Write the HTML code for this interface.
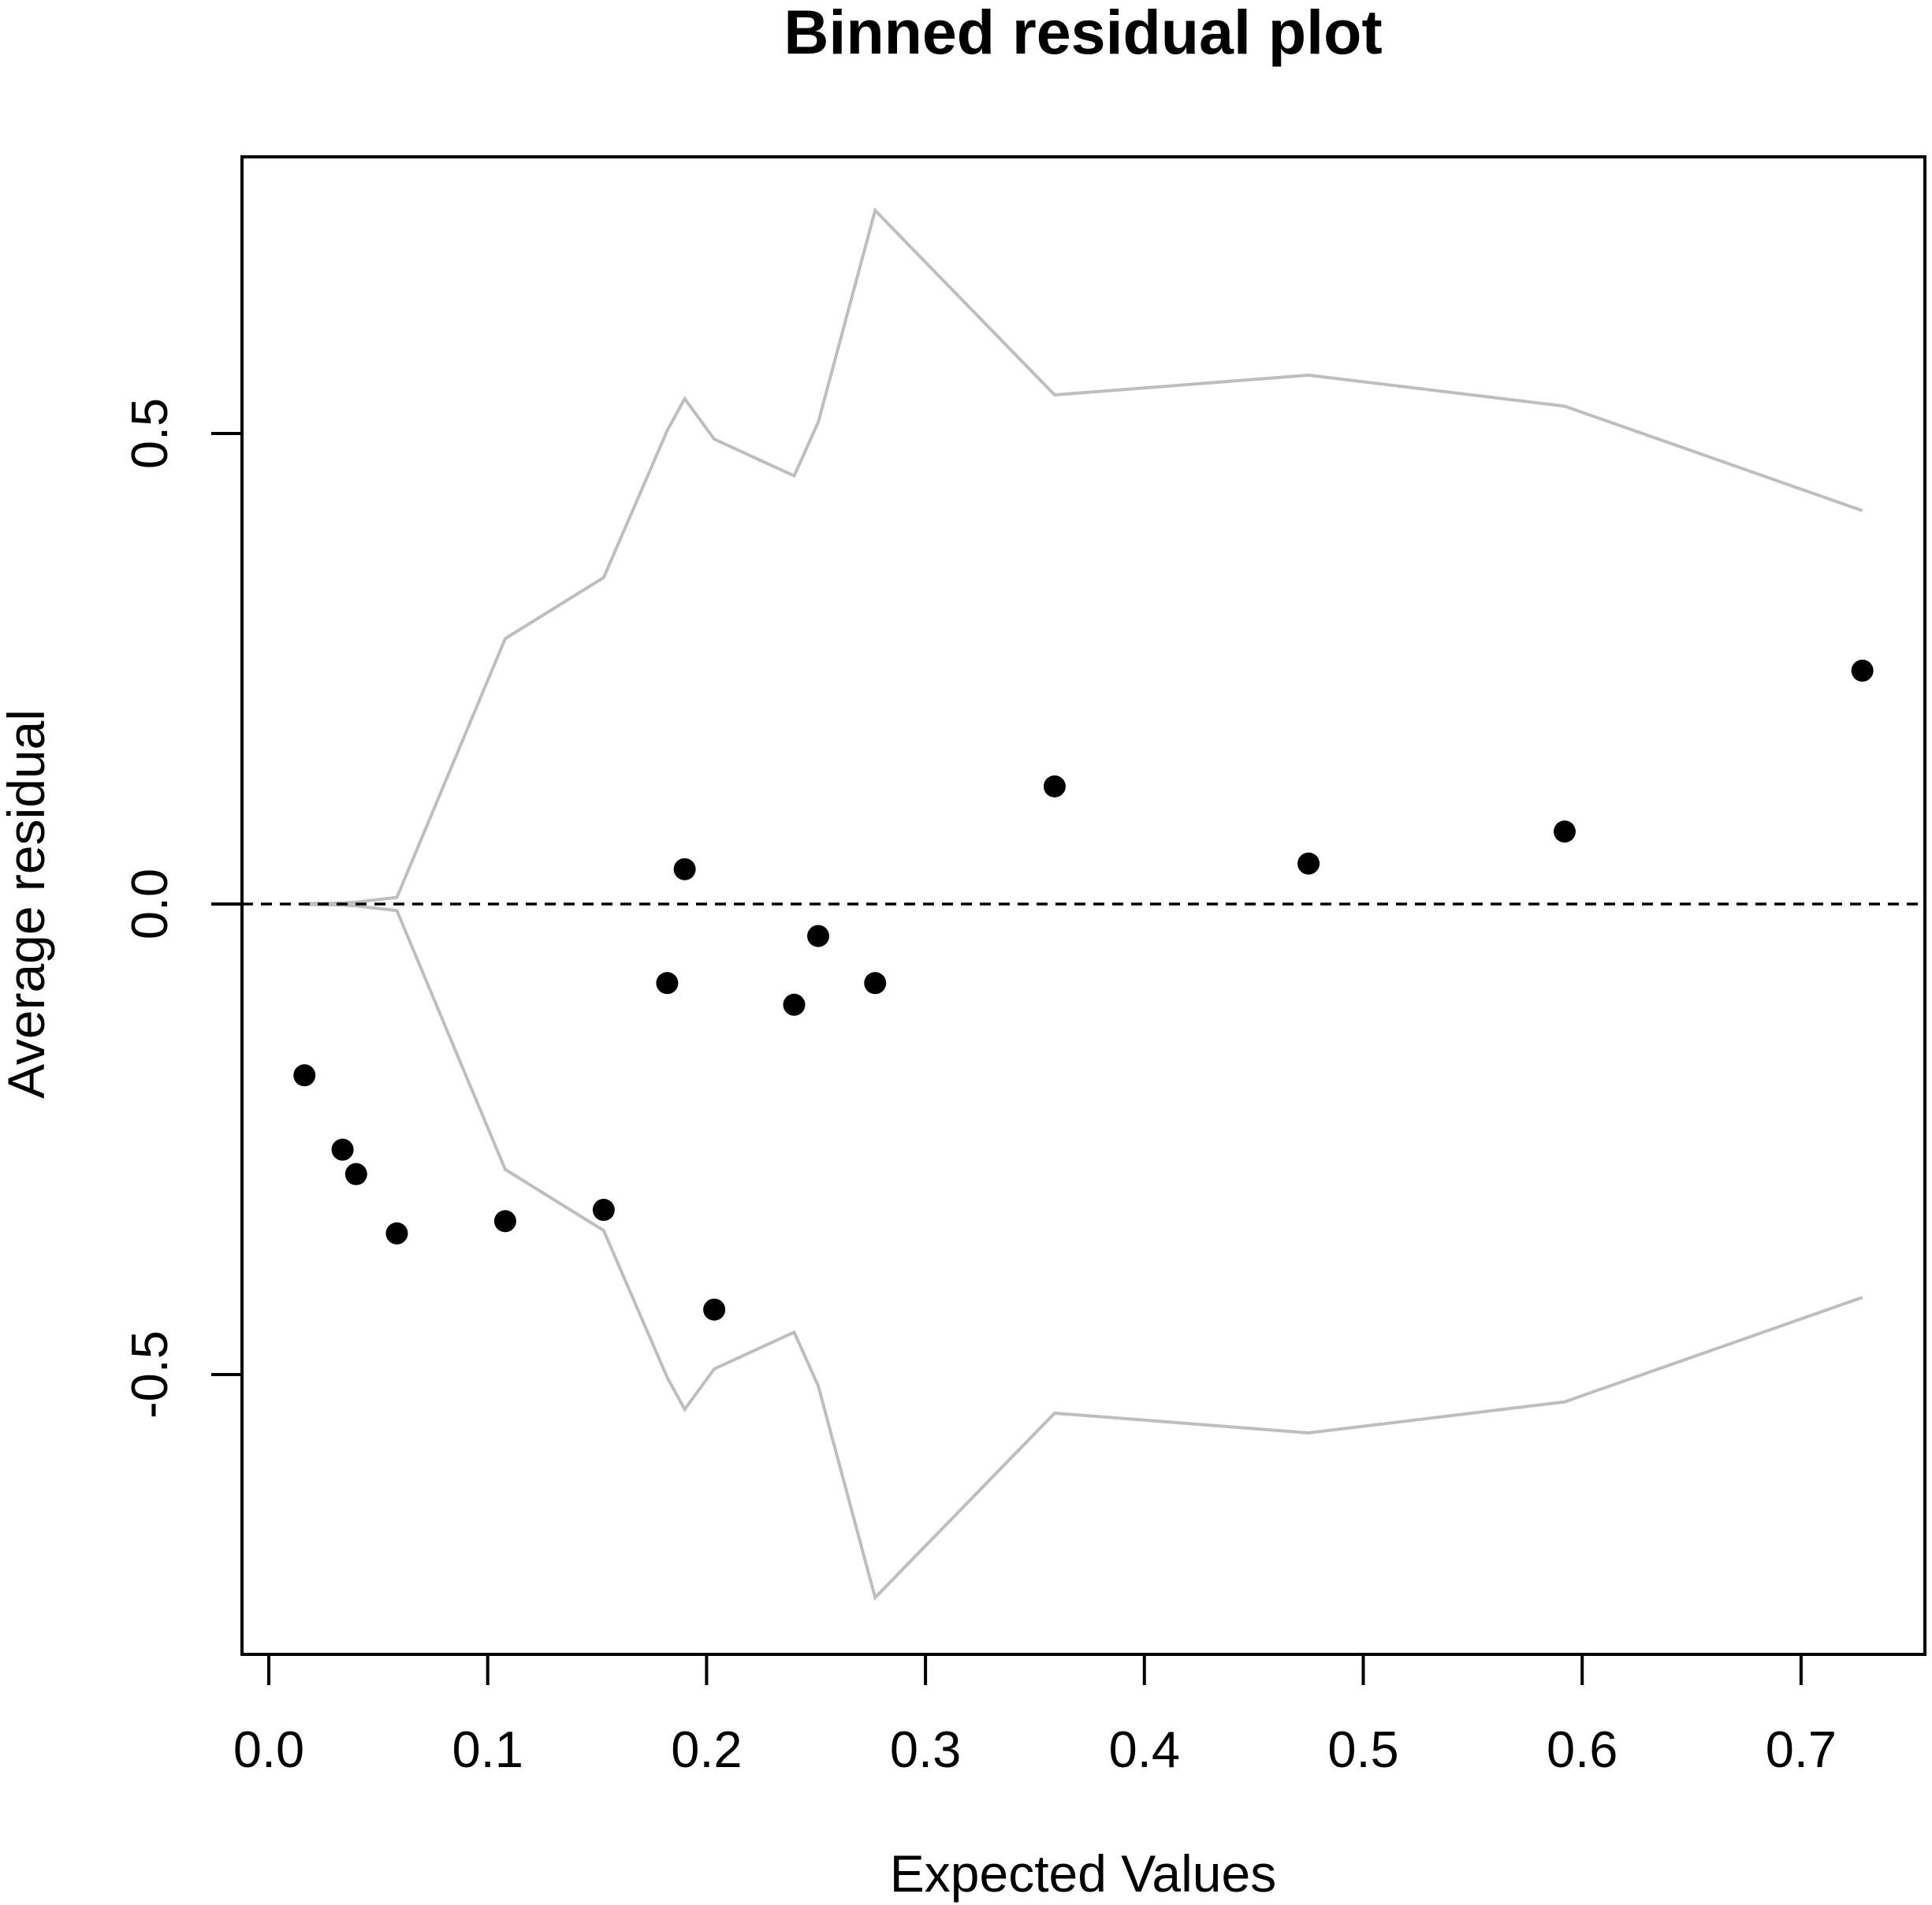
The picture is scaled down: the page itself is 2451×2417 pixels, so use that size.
<!DOCTYPE html>
<html><head><meta charset="utf-8"><style>html,body{margin:0;padding:0;background:#fff}svg{display:block}text{font-family:"Liberation Sans",Arial,sans-serif}</style></head>
<body>
<svg id="chart" width="2451" height="2417" viewBox="0 0 2451 2417" xmlns="http://www.w3.org/2000/svg">
<rect width="2451" height="2417" fill="#fff"/>
<text x="1374" y="68" text-anchor="middle" font-size="79" font-weight="bold">Binned residual plot</text>
<text x="1374" y="2400" text-anchor="middle" font-size="66">Expected Values</text>
<text transform="translate(56,1147) rotate(-90)" text-anchor="middle" font-size="66">Average residual</text>
<g id="plot"></g>
<rect x="307" y="199" width="2135" height="1900" fill="none" stroke="#000" stroke-width="4"/>
</svg>
<script>
const xTicks = [0.0, 0.1, 0.2, 0.3, 0.4, 0.5, 0.6, 0.7];
const xTickLabels = ["0.0","0.1","0.2","0.3","0.4","0.5","0.6","0.7"];
const yTicks = [-0.5, 0.0, 0.5];
const yTickLabels = ["-0.5","0.0","0.5"];
const binX = [0.0163,0.0337,0.0399,0.0585,0.108,0.153,0.182,0.190,0.2035,0.240,0.251,0.277,0.359,0.475,0.592,0.728];
const binResidual = [-0.182,-0.261,-0.287,-0.350,-0.337,-0.325,-0.084,0.037,-0.431,-0.107,-0.034,-0.084,0.125,0.043,0.077,0.248];
const binBound = [0.0005,0.001,0.002,0.007,0.282,0.347,0.503,0.537,0.494,0.455,0.512,0.737,0.541,0.562,0.529,0.418];

const NS = "http://www.w3.org/2000/svg";
const g = document.getElementById('plot');
const sx = v => 341 + v * 2777;
const sy = v => 1147 - v * 1194;
function mk(tag, attrs){const e=document.createElementNS(NS,tag);for(const k in attrs)e.setAttribute(k,attrs[k]);g.appendChild(e);return e;}

xTicks.forEach((t,i)=>{
  const l=mk('line',{x1:sx(t),x2:sx(t),y1:2099,y2:2138,stroke:'#000','stroke-width':4});
  
  
  const tx=mk('text',{x:sx(t),y:2242,'text-anchor':'middle','font-size':65});
  tx.textContent=xTickLabels[i];
  
  
});
mk('line',{x1:sx(xTicks[0]),x2:sx(xTicks[xTicks.length-1]),y1:2099,y2:2099,stroke:'#000','stroke-width':4});
yTicks.forEach((t,i)=>{
  const l=mk('line',{x1:268,x2:307,y1:sy(t),y2:sy(t),stroke:'#000','stroke-width':4});
  
  
  const tx=mk('text',{transform:`translate(212,${sy(t)}) rotate(-90)`,'text-anchor':'middle','font-size':65});
  tx.textContent=yTickLabels[i];
  
  
});
mk('line',{x1:307,x2:307,y1:sy(-0.5),y2:sy(0.5),stroke:'#000','stroke-width':4});

const up=mk('polyline',{points:binX.map((x,i)=>sx(x)+','+sy(binBound[i])).join(' '),fill:'none',stroke:'#bebebe','stroke-width':4});


const lo=mk('polyline',{points:binX.map((x,i)=>sx(x)+','+sy(-binBound[i])).join(' '),fill:'none',stroke:'#bebebe','stroke-width':4});


const z=mk('line',{x1:307,x2:2442,y1:sy(0),y2:sy(0),stroke:'#000','stroke-width':3.5,'stroke-dasharray':'14 10'});


binX.forEach((x,i)=>{
  const c=mk('circle',{cx:sx(x),cy:sy(binResidual[i]),r:14,fill:'#000'});
  
  
});
</script>
</body></html>
